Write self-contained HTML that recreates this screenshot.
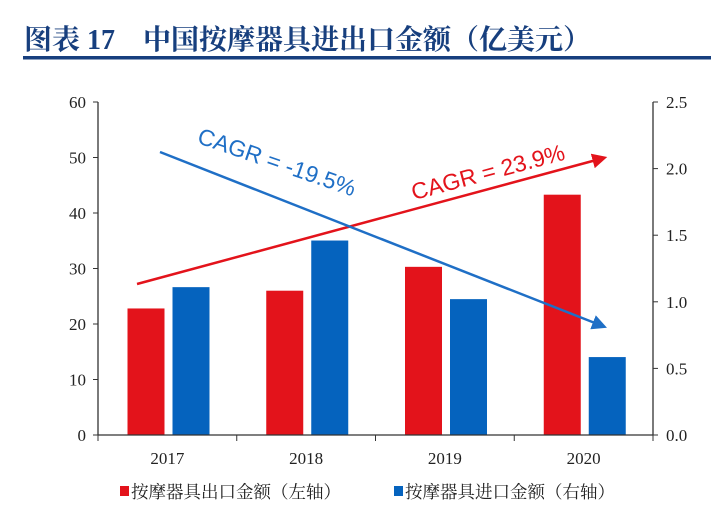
<!DOCTYPE html>
<html><head><meta charset="utf-8"><style>
body{margin:0;background:#fff;width:711px;height:516px;overflow:hidden;font-family:"Liberation Serif","Noto Serif CJK SC",serif}
</style></head><body>
<svg width="711" height="516" xmlns="http://www.w3.org/2000/svg">
<text x="24" y="49" font-size="28" font-weight="bold" fill="#173f7e" font-family="Liberation Serif,Noto Serif CJK SC,serif">图表 17　中国按摩器具进出口金额（亿美元）</text>
<rect x="23" y="56" width="688" height="3.5" fill="#173f7e"/>
<g id="plot"></g>
</svg>
<script>
const categories=["2017","2018","2019","2020"];
const exportVals=[22.8,26.0,30.3,43.3];
const importVals=[1.11,1.46,1.02,0.585];
const leftTicks=[0,10,20,30,40,50,60];
const rightTicks=["0.0","0.5","1.0","1.5","2.0","2.5"];
const NS="http://www.w3.org/2000/svg";
const g=document.getElementById('plot');
const L=98,R=653,T=102,B=435;
const yL=v=>B-(v/60)*(B-T);
const yR=v=>B-(v/2.5)*(B-T);
const gw=(R-L)/categories.length;
function mk(t,a,p){const e=document.createElementNS(NS,t);for(const k in a)e.setAttribute(k,a[k]);(p||g).appendChild(e);return e;}
const defs=mk('defs',{});
const m1=mk('marker',{id:'ar',markerWidth:'6',markerHeight:'6',refX:'3',refY:'3',orient:'auto',markerUnits:'strokeWidth'},defs);
mk('path',{d:'M0,0 L6,3 L0,6 Z',fill:'#e3131b'},m1);
const m2=mk('marker',{id:'ab',markerWidth:'6',markerHeight:'6',refX:'3',refY:'3',orient:'auto',markerUnits:'strokeWidth'},defs);
mk('path',{d:'M0,0 L6,3 L0,6 Z',fill:'#1f6fc6'},m2);
categories.forEach((c,i)=>{
  const x0=L+gw*i;
  let e=mk('rect',{x:x0+29.5,y:yL(exportVals[i]),width:37,height:B-yL(exportVals[i]),fill:'#e3131b'});
  
  
  e=mk('rect',{x:x0+74.5,y:yR(importVals[i]),width:37,height:B-yR(importVals[i]),fill:'#0563be'});
  
  
  e=mk('text',{x:x0+gw/2,y:B+29,'font-size':'17','text-anchor':'middle',fill:'#222'});
  e.textContent=c;
  
  
});
mk('line',{x1:L,y1:B,x2:R,y2:B,stroke:'#333','stroke-width':'1.3'});
mk('line',{x1:L,y1:T,x2:L,y2:B,stroke:'#333','stroke-width':'1.3'});
mk('line',{x1:R,y1:T,x2:R,y2:B,stroke:'#333','stroke-width':'1.3'});
for(let i=0;i<=categories.length;i++)mk('line',{x1:L+gw*i,y1:B,x2:L+gw*i,y2:B+6,stroke:'#333'});
leftTicks.forEach(v=>{mk('line',{x1:L-5,y1:yL(v),x2:L,y2:yL(v),stroke:'#333'});
  const e=mk('text',{x:L-12,y:yL(v)+6,'font-size':'17','text-anchor':'end',fill:'#222'});e.textContent=v;
  
  });
rightTicks.forEach(v=>{const y=yR(parseFloat(v));mk('line',{x1:R,y1:y,x2:R+5,y2:y,stroke:'#333'});
  const e=mk('text',{x:R+13,y:y+6,'font-size':'17',fill:'#222'});e.textContent=v;
  
  });
let e=mk('line',{x1:137,y1:284,x2:600,y2:159,stroke:'#e3131b','stroke-width':'2.5','marker-end':'url(#ar)'});


e=mk('line',{x1:160,y1:152,x2:600,y2:325,stroke:'#1f6fc6','stroke-width':'2.5','marker-end':'url(#ab)'});


e=mk('text',{x:488,y:180,'font-size':'23','text-anchor':'middle',fill:'#e3131b','font-family':'Liberation Sans,sans-serif',transform:'rotate(-15 488 172)'});
e.textContent='CAGR = 23.9%';


e=mk('text',{x:277,y:170,'font-size':'23','text-anchor':'middle',fill:'#1f6fc6','font-family':'Liberation Sans,sans-serif',transform:'rotate(19 277 162)'});
e.textContent='CAGR = -19.5%';


e=mk('rect',{x:120,y:486,width:9,height:10,fill:'#e3131b'});


e=mk('text',{x:131,y:498,'font-size':'17.5',fill:'#222','font-family':'Noto Serif CJK SC,serif'});
e.textContent='按摩器具出口金额（左轴）';


e=mk('rect',{x:394,y:486,width:9,height:10,fill:'#0563be'});


e=mk('text',{x:405,y:498,'font-size':'17.5',fill:'#222','font-family':'Noto Serif CJK SC,serif'});
e.textContent='按摩器具进口金额（右轴）';


</script>
</body></html>
